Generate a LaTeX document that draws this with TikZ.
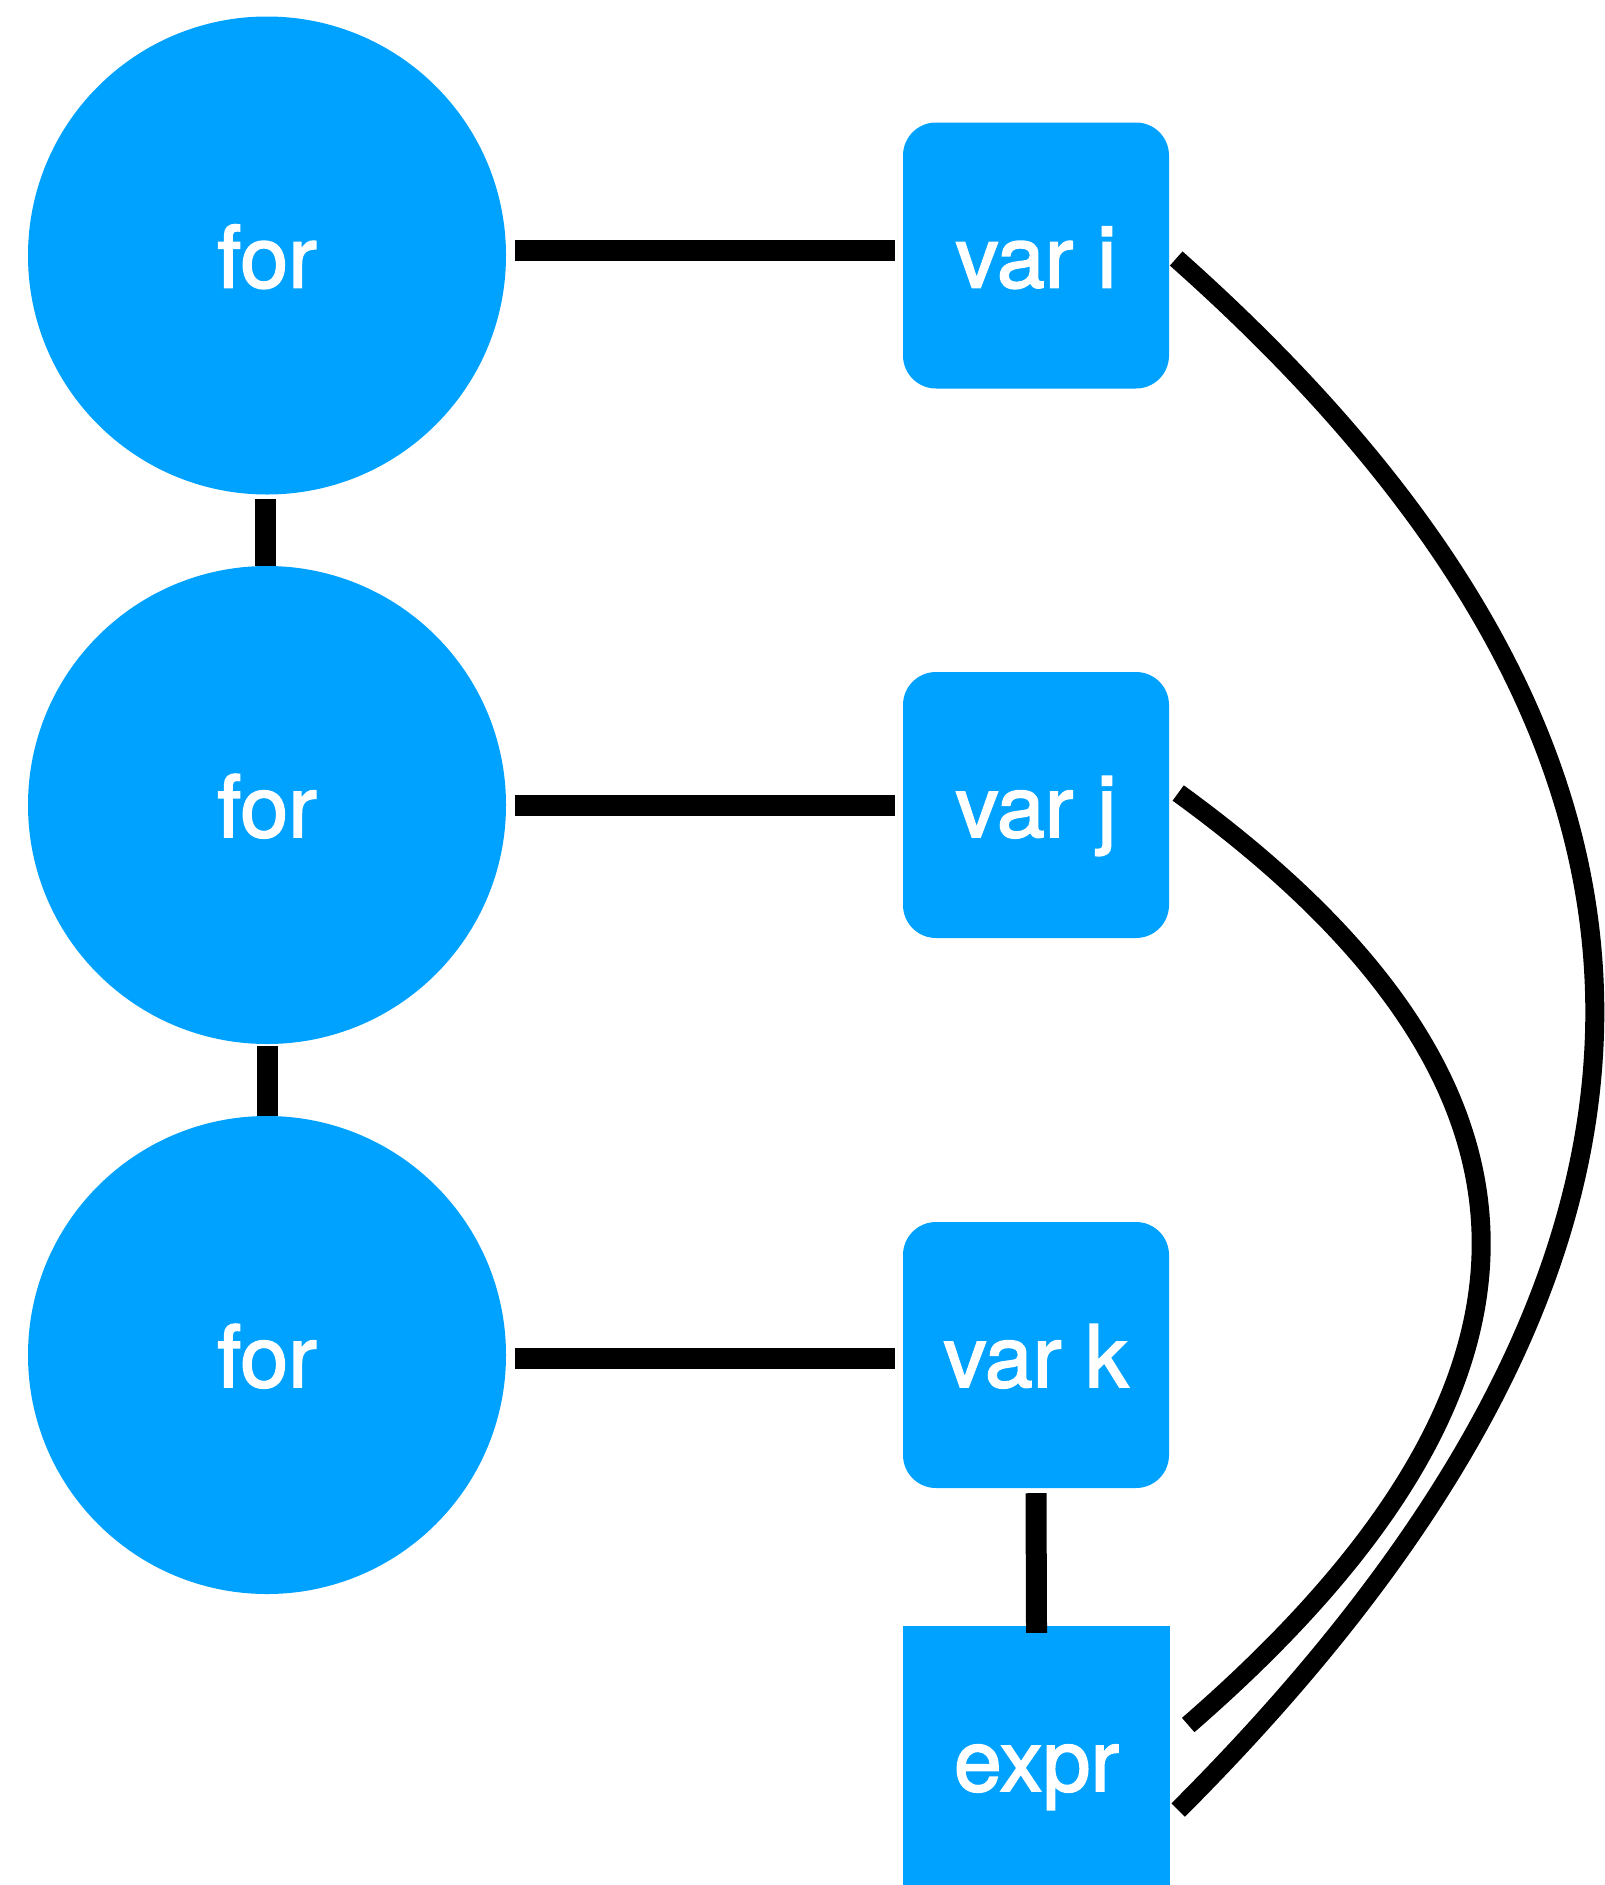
\documentclass[tikz,border=0pt]{standalone}
\usepackage{fontspec}
\setmainfont{TeX Gyre Heros}
\newfontfamily\labelfont{TeX Gyre Heros}[FakeBold=2]
\usetikzlibrary{calc}
\definecolor{nodeblue}{RGB}{0,162,255}
\begin{document}
\begin{tikzpicture}[x=1pt,y=-1pt,
  lbl/.style={font=\labelfont\fontsize{86}{100}\selectfont, text=white, inner sep=0pt, text height=64pt, text depth=0pt},
  forc/.style={lbl, circle, fill=nodeblue, minimum size=478pt},
  varbox/.style={lbl, rectangle, rounded corners=33pt, fill=nodeblue, minimum width=266pt, minimum height=266pt},
  exprbox/.style={lbl, rectangle, fill=nodeblue, minimum width=267pt, minimum height=266pt},
  link/.style={line width=21pt, black},
  curvelink/.style={line width=19pt, black}]
\useasboundingbox (0,0) rectangle (1604,1885);
\node[forc] (f1) at (267,255.5) {for};
\node[forc] (f2) at (267,805) {for};
\node[forc] (f3) at (267,1355) {for};
\node[varbox] (vi) at (1036,255.5) {var i};
\node[varbox] (vj) at (1036,805) {var j};
\node[varbox] (vk) at (1036,1355) {var k};
\node[exprbox] (ex) at (1036.5,1759) {expr};
\draw[link, shorten <=4pt] ($(f1.south)+(-2,0)$) -- ($(f2.north)+(-2,0)$);
\draw[link, shorten <=2pt] (f2.south) -- (f3.north);
\draw[link, shorten <=9pt, shorten >=8pt] ($(f1.east)+(0,-5)$) -- ($(vi.west)+(0,-5)$);
\draw[link, shorten <=9pt, shorten >=8pt] (f2.east) -- (vj.west);
\draw[link, shorten <=9pt, shorten >=8pt] ($(f3.east)+(0,3)$) -- ($(vk.west)+(0,3)$);
\draw[link, shorten <=5pt, shorten >=-7pt] (vk.south) -- (ex.north);
\draw[curvelink] ($(vi.east)+(7,3)$) .. controls (1732,752) and (1736,1252) .. ($(ex.east)+(8,51)$);
\draw[curvelink] ($(vj.east)+(9,-12)$) .. controls (1579,1084) and (1582,1383) .. ($(ex.east)+(18,-34)$);
\end{tikzpicture}
\end{document}
